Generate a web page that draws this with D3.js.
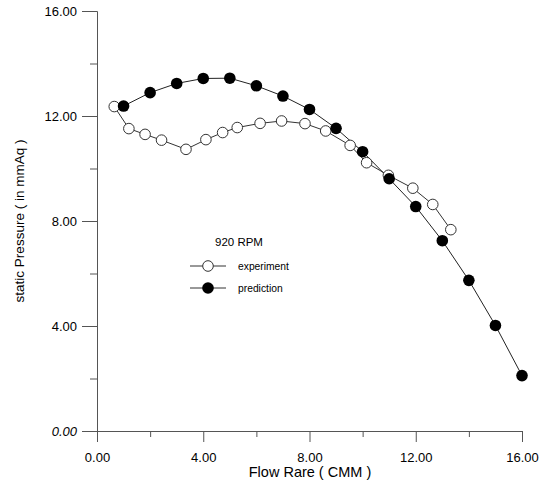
<!DOCTYPE html>
<html>
<head>
<meta charset="utf-8">
<script src="https://cdn.jsdelivr.net/npm/d3@7"></script>
<style>
  html, body { margin: 0; padding: 0; background: #fff; }
  svg { display: block; font-family: "Liberation Sans", Arial, sans-serif; }
</style>
</head>
<body>
<svg id="chart" width="547" height="486"></svg>
<script>
// Fan performance at 920 RPM: static pressure vs. flow rate
const expFlow = [0.65, 1.2, 1.81, 2.43, 3.35, 4.10, 4.73, 5.28, 6.14, 6.95, 7.83, 8.61, 9.53, 10.15, 10.97, 11.89, 12.64, 13.32];
const expPressure = [12.36, 11.52, 11.30, 11.08, 10.73, 11.10, 11.37, 11.56, 11.72, 11.81, 11.71, 11.43, 10.88, 10.22, 9.74, 9.25, 8.63, 7.67];

const predFlow = [1, 2, 3, 4, 5, 6, 7, 8, 9, 10, 11, 12, 13, 14, 15, 16];
const predPressure = [12.38, 12.89, 13.24, 13.43, 13.44, 13.15, 12.76, 12.25, 11.53, 10.64, 9.61, 8.55, 7.25, 5.74, 4.02, 2.11];

const majorTicks = [0, 4, 8, 12, 16];
const minorTicks = [2, 6, 10, 14];
const legendTitle = "920 RPM";
const seriesNames = ["experiment", "prediction"];
const xTitle = "Flow Rare ( CMM )";
const yTitle = "static Pressure ( in mmAq )";

const svg = d3.select("#chart");
const x = d3.scaleLinear().domain([0, 16]).range([97, 522]);
const y = d3.scaleLinear().domain([0, 16]).range([431, 11]);
const fmt = d3.format(".2f");
const axisColor = "#555";

// X axis: major ticks with labels, minor ticks without
svg.append("g").attr("transform", `translate(0,${y(0)})`)
  .call(d3.axisBottom(x).tickValues(majorTicks).tickFormat(fmt).tickSize(11).tickSizeOuter(0).tickPadding(11));
svg.append("g").attr("transform", `translate(0,${y(0)})`)
  .call(d3.axisBottom(x).tickValues(minorTicks).tickFormat("").tickSize(6).tickSizeOuter(0));

// Y axis
const yAxis = svg.append("g").attr("transform", `translate(${x(0)},0)`)
  .call(d3.axisLeft(y).tickValues(majorTicks).tickFormat(fmt).tickSize(15).tickSizeOuter(0).tickPadding(5));
svg.append("g").attr("transform", `translate(${x(0)},0)`)
  .call(d3.axisLeft(y).tickValues(minorTicks).tickFormat("").tickSize(7).tickSizeOuter(0));

svg.selectAll(".domain, .tick line").attr("stroke", axisColor).attr("stroke-width", 1);
svg.selectAll(".tick text").attr("fill", "#000").attr("font-size", 13)
  .attr("font-family", "Liberation Sans, Arial, sans-serif");
yAxis.selectAll(".tick text").filter(d => d === 0).attr("font-style", "italic");

// Axis titles
svg.append("text").attr("x", 310).attr("y", 477).attr("text-anchor", "middle")
  .attr("font-size", 14.5).text(xTitle);
svg.append("text").attr("transform", `translate(24,${221}) rotate(-90)`)
  .attr("text-anchor", "middle").attr("font-size", 13.5).text(yTitle);

// Series
const line = d3.line().x(d => x(d[0])).y(d => y(d[1]));
const expData = expFlow.map((f, i) => [f, expPressure[i]]);
const predData = predFlow.map((f, i) => [f, predPressure[i]]);

svg.append("path").datum(expData).attr("d", line)
  .attr("fill", "none").attr("stroke", "#333").attr("stroke-width", 1);
svg.append("path").datum(predData).attr("d", line)
  .attr("fill", "none").attr("stroke", "#222").attr("stroke-width", 1);

svg.append("g").selectAll("circle").data(expData).join("circle")
  .attr("cx", d => x(d[0])).attr("cy", d => y(d[1])).attr("r", 5.3)
  .attr("fill", "#fff").attr("stroke", "#333").attr("stroke-width", 1);
svg.append("g").selectAll("circle").data(predData).join("circle")
  .attr("cx", d => x(d[0])).attr("cy", d => y(d[1])).attr("r", 5.8)
  .attr("fill", "#000");

// Legend
const legend = svg.append("g");
legend.append("text").attr("x", 215).attr("y", 246).attr("font-size", 11.5).text(legendTitle);
const styles = [
  { fill: "#fff", stroke: "#333", r: 5.3 },
  { fill: "#000", stroke: "none", r: 5.8 }
];
seriesNames.forEach((name, i) => {
  const ly = 266 + i * 22;
  legend.append("line").attr("x1", 190).attr("x2", 226).attr("y1", ly).attr("y2", ly)
    .attr("stroke", "#333").attr("stroke-width", 1);
  legend.append("circle").attr("cx", 208).attr("cy", ly).attr("r", styles[i].r)
    .attr("fill", styles[i].fill).attr("stroke", styles[i].stroke);
  legend.append("text").attr("x", 238).attr("y", ly + 4).attr("font-size", 10.3).text(name);
});
</script>
</body>
</html>
